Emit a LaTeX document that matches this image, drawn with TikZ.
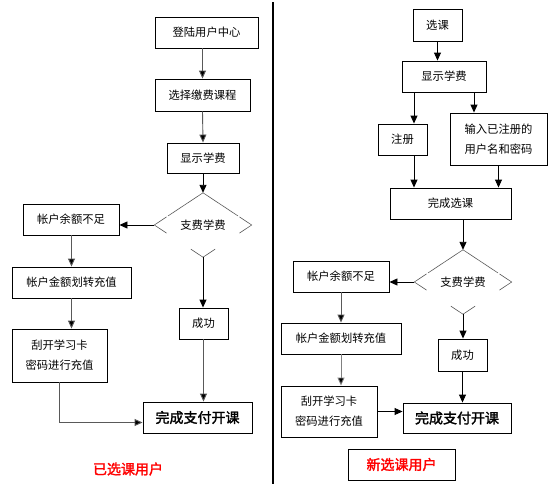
\documentclass[tikz,border=0pt]{standalone}
\usepackage{fontspec}
\newfontfamily\cjk{Noto Sans CJK SC}[AutoFakeBold=2]
\usepackage{tikz}
\usetikzlibrary{arrows.meta}
\usetikzlibrary{calc}
\usetikzlibrary{shapes.geometric}
\usepackage{xcolor}

\tikzset{
  box/.style={draw, line width=0.9pt, rectangle, inner sep=0pt, font=\cjk\fontsize{11.3}{20}\selectfont, align=center},
  bigbox/.style={box, font=\cjk\bfseries\fontsize{14}{16}\selectfont},
  choice/.style={shape=diamond, inner sep=0pt, minimum width=97pt, minimum height=64pt, font=\cjk\fontsize{11.3}{14}\selectfont},
  dline/.style={draw=black!65, line width=0.6pt},
  arr/.style={line width=0.9pt, -{Triangle[length=8pt,width=7pt]}},
  garr/.style={arr, draw=black!65, arrows={-{Triangle[length=8pt,width=7pt,fill=black]}}},
}

\begin{document}
\begin{tikzpicture}[x=1pt,y=-1pt]
\useasboundingbox (0,0) rectangle (549,488);
%divider
\draw[line width=1.2pt] (273,2)--(273,484);

%left column
\node[box, minimum width=103pt, minimum height=31pt] (log1) at (206.5,32.5) {登陆用户中心};
\node[box, minimum width=95pt, minimum height=32pt] (sel1) at (202.5,95) {选择缴费课程};
\node[box, minimum width=72pt, minimum height=30pt] (fee1) at (203,158) {显示学费};
\node[choice] (d1) at (203,225) {\raisebox{-3pt}{支费学费}};
\node[box, minimum width=96pt, minimum height=31pt] (low1) at (71,219.5) {帐户余额不足};
\node[box, minimum width=119pt, minimum height=31pt] (tr1) at (71.5,282.5) {帐户金额划转充值};
\node[box, minimum width=95pt, minimum height=53pt] (card1) at (59.5,355.5) {刮开学习卡\\密码进行充值};
\node[box, minimum width=49pt, minimum height=31pt] (ok1) at (203.5,323.5) {成功};
\node[bigbox, minimum width=109pt, minimum height=31pt] (done1) at (197.5,417.5) {完成支付开课};
\node[font=\cjk\bfseries\fontsize{14}{16}\selectfont, text=red] (tag1) at (128,469) {已选课用户};

%right column
\node[box, minimum width=49pt, minimum height=32pt] (sel2) at (437.5,25) {选课};
\node[box, minimum width=84pt, minimum height=31pt] (fee2) at (444,76.5) {显示学费};
\node[box, minimum width=49pt, minimum height=31pt] (reg2) at (402.5,139.5) {注册};
\node[box, minimum width=97pt, minimum height=52pt] (inp2) at (498.5,139) {输入已注册的\\用户名和密码};
\node[box, minimum width=121pt, minimum height=31pt] (fin2) at (450.5,203.5) {完成选课};
\node[choice] (d2) at (463,282) {\raisebox{-3pt}{支费学费}};
\node[box, minimum width=96pt, minimum height=31pt] (low2) at (341,276.5) {帐户余额不足};
\node[box, minimum width=120pt, minimum height=31pt] (tr2) at (341,338.5) {帐户金额划转充值};
\node[box, minimum width=96pt, minimum height=51pt] (card2) at (329,411.5) {刮开学习卡\\密码进行充值};
\node[box, minimum width=49pt, minimum height=32pt] (ok2) at (462.5,355) {成功};
\node[bigbox, minimum width=108pt, minimum height=30pt] (done2) at (457,418) {完成支付开课};
\node[box, minimum width=107pt, minimum height=31pt, font=\cjk\bfseries\fontsize{14}{16}\selectfont, text=red] (tag2) at (401.5,464.5) {新选课用户};

%broken diamonds
\foreach \d in {d1,d2}{
  \draw[dline] (\d.north)--($(\d.north)!0.72!(\d.west)$);
  \draw[dline] (\d.north)--($(\d.north)!0.72!(\d.east)$);
  \draw[dline] ($(\d.west)!0.25!(\d.north)$)--(\d.west)--($(\d.west)!0.25!(\d.south)$);
  \draw[dline] ($(\d.east)!0.25!(\d.north)$)--(\d.east)--($(\d.east)!0.25!(\d.south)$);
  \draw[dline] ($(\d.south)!0.25!(\d.west)$)--(\d.south)--($(\d.south)!0.25!(\d.east)$);
}

%left arrows
\draw[garr] (log1.south -| sel1.north)--(sel1.north);
\draw[garr] (sel1.south)--(fee1.north);
\draw[arr] (fee1.south)--(d1.north);
\draw[arr] (d1.west)--(d1.west -| low1.east);
\draw[garr] (low1.south -| tr1.north)--(tr1.north);
\draw[garr] (tr1.south)--(tr1.south |- card1.north);
\draw[garr] (card1.south) |- ([yshift=-5pt]done1.west);
\draw[arr] (d1.south)--(ok1.north -| d1.south);
\draw[garr] (ok1.south)--(ok1.south |- done1.north);

%right arrows
\draw[arr] (sel2.south)--(sel2.south |- fee2.north);
\draw[arr] ([xshift=-30pt]fee2.south)--([xshift=-30pt]fee2.south |- reg2.north);
\draw[arr] ([xshift=30pt]fee2.south)--([xshift=30pt]fee2.south |- inp2.north);
\draw[arr] ([xshift=11.5pt]reg2.south)--([xshift=11.5pt]reg2.south |- fin2.north);
\draw[arr] (inp2.south)--(inp2.south |- fin2.north);
\draw[arr] (fin2.south -| d2.north)--(d2.north);
\draw[arr] (d2.west)--(d2.west -| low2.east);
\draw[garr] (low2.south)--(tr2.north);
\draw[garr, draw=black!50] (tr2.south)--(tr2.south |- card2.north);
\draw[arr] (card2.east)--(card2.east -| done2.west);
\draw[arr] (d2.south)--(d2.south |- ok2.north);
\draw[arr] (ok2.south)--(ok2.south |- done2.north);
\end{tikzpicture}
\end{document}
